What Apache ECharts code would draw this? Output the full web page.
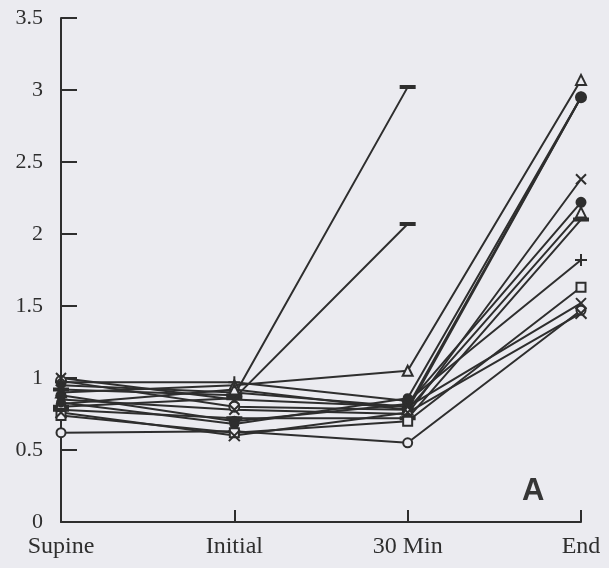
<!DOCTYPE html>
<html><head><meta charset="utf-8">
<script src="https://cdn.jsdelivr.net/npm/echarts@6/dist/echarts.min.js"></script>
<style>html,body{margin:0;padding:0;background:#ebebf0;}#c{width:609px;height:568px;}</style>
</head><body><div id="c"></div>
<script>
const categories = ['Supine', 'Initial', '30 Min', 'End'];
const yTicks = [0, 0.5, 1, 1.5, 2, 2.5, 3, 3.5];
// each patient: Supine, Initial, 30 Min, End
const p1 = [0.92, 0.88, 3.02, null];
const p2 = [0.80, 0.86, 2.07, null];
const p3 = [0.90, 0.95, 1.05, 3.07];
const p4 = [0.62, 0.63, 0.55, 1.47];
const p5 = [0.98, 0.80, 0.78, 2.95];
const p6 = [0.95, 0.90, 0.80, 2.95];
const p7 = [0.85, 0.78, 0.75, 2.38];
const p8 = [0.88, 0.70, 0.82, 2.22];
const p9 = [0.82, 0.92, 0.78, 2.15];
const p10 = [0.78, 0.72, 0.72, 2.10];
const p11 = [0.97, 0.97, 0.84, 1.82];
const p12 = [0.74, 0.62, 0.70, 1.63];
const p13 = [1.00, 0.85, 0.80, 1.52];
const p14 = [0.76, 0.60, 0.76, 1.45];
const p15 = [0.83, 0.68, 0.86, 2.95];

const BG = '#ebebf0', INK = '#2e2e2e';
const X = 'path://M0,0L10,10M10,0L0,10';
const PLUS = 'path://M5,0L5,10M0,5L10,5';
function s(data, symbol, size, hollow) {
  return {
    type: 'line', data: data, symbol: symbol, symbolSize: size,
    connectNulls: false,
    lineStyle: { color: INK, width: 2 },
    itemStyle: { color: hollow ? BG : INK, borderColor: INK, borderWidth: 2 },
    z: 3
  };
}
const series = [
  s(p1, 'rect', [12, 3], false),
  s(p2, 'rect', [12, 3], false),
  s(p3, 'triangle', 10, true),
  s(p4, 'circle', 9, true),
  s(p5, 'circle', 10, true),
  s(p6, 'diamond', 9, false),
  s(p7, X, 10, false),
  s(p8, 'circle', 9, false),
  s(p9, 'triangle', 10, true),
  s(p10, 'rect', [12, 3], false),
  s(p11, PLUS, 12, false),
  s(p12, 'rect', 9, true),
  s(p13, X, 10, false),
  s(p14, X, 11, false),
  s(p15, 'circle', 8, false)
];

const chart = echarts.init(document.getElementById('c'));
chart.setOption({
  backgroundColor: BG,
  animation: false,
  grid: { left: 61, right: 28, top: 18, bottom: 46, containLabel: false },
  xAxis: {
    type: 'category', data: categories, boundaryGap: false,
    axisLine: { lineStyle: { color: INK, width: 2 } },
    axisTick: { inside: true, length: 12, lineStyle: { color: INK, width: 2 }, alignWithLabel: true },
    axisLabel: { color: '#2e2e2e', fontFamily: 'Liberation Serif', fontSize: 24, margin: 13 },
    splitLine: { show: false }
  },
  yAxis: {
    type: 'value', min: 0, max: 3.5, interval: 0.5,
    axisLine: { show: true, lineStyle: { color: INK, width: 2 } },
    axisTick: { show: true, inside: true, length: 16, lineStyle: { color: INK, width: 2 } },
    axisLabel: { color: '#2e2e2e', fontFamily: 'Liberation Serif', fontSize: 22, margin: 18,
      formatter: v => yTicks.indexOf(v) >= 0 ? String(v) : '' },
    splitLine: { show: false }
  },
  graphic: [{
    type: 'text', left: 522, top: 476,
    style: { text: 'A', font: 'bold 31px "Liberation Sans", Arial, sans-serif', fill: '#363636' }
  }],
  series: series
});
</script>
</body></html>
